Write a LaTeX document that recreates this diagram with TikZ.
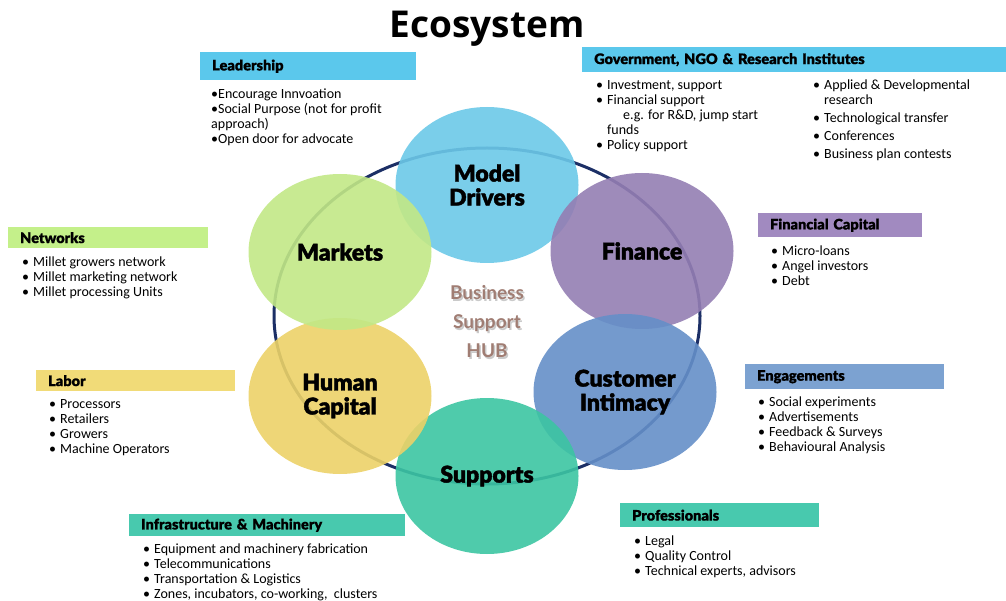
\documentclass[tikz,border=0pt]{standalone}
\usepackage{fontspec}
\setmainfont{Carlito}
\newfontfamily\titlefont{Open Sans}
\newfontfamily\labelfont{Lato}
\newfontfamily\heavyfont{Lato Bold}[FakeBold=1.6]
\newfontfamily\hdrfont{Lato Bold}[FakeBold=0.6]
\usetikzlibrary{shapes.geometric}

\definecolor{cyanhdr}{HTML}{5BC8EC}
\definecolor{greenhdr}{HTML}{C4F08A}
\definecolor{purplehdr}{HTML}{A18AC0}
\definecolor{yellowhdr}{HTML}{F1DB78}
\definecolor{bluehdr}{HTML}{7CA2D1}
\definecolor{tealhdr}{HTML}{48C9AE}
\definecolor{mdfill}{HTML}{6CC9E8}
\definecolor{mkfill}{HTML}{C2E886}
\definecolor{fnfill}{HTML}{947EB3}
\definecolor{hcfill}{HTML}{ECD268}
\definecolor{cifill}{HTML}{658FC8}
\definecolor{spfill}{HTML}{3CC5A2}
\definecolor{ringblue}{HTML}{1C2F66}
\definecolor{hubbrown}{HTML}{A07D73}

\newcommand\itm[1]{\makebox[11pt][l]{\textbullet}#1}

\tikzset{
  hdr/.style={anchor=north west, inner xsep=12pt, inner ysep=0pt, minimum height=24pt,
    text width=#1, align=left, font=\hdrfont\bfseries\fontsize{14.5}{16}\selectfont},
  items/.style={anchor=north west, inner sep=0pt, align=left,
    font=\fontsize{14}{15}\selectfont},
  bubble/.style={ellipse, minimum width=183pt, minimum height=156pt, inner sep=0pt,
    fill opacity=0.9, text opacity=1, align=center,
    font=\heavyfont\bfseries\fontsize{23}{24}\selectfont},
}

\begin{document}
\begin{tikzpicture}[x=1pt,y=-1pt]
\useasboundingbox (0,0) rectangle (1006,601);

% title
\node[font=\titlefont\bfseries\fontsize{37}{40}\selectfont] (title) at (487,29) {Ecosystem};

% ring and bubbles
\node[ellipse, draw=ringblue, line width=3pt, minimum width=426pt, minimum height=336pt] (hubring) at (487,316) {};
\node[bubble, fill=mdfill] (mdrivers) at (487,185) {Model\\Drivers};
\node[bubble, fill=fnfill] (finance) at (642,251) {Finance};
\node[bubble, fill=cifill] (cintimacy) at (625,392) {Customer\\Intimacy};
\node[bubble, fill=spfill] (supports) at (487,476) {Supports};
\node[bubble, fill=hcfill] (hcapital) at (340,396) {Human\\Capital};
\node[bubble, fill=mkfill] (markets) at (340,252) {Markets};

% hub text
\node[align=center, text=black!35, opacity=0.6, font=\labelfont\bfseries\fontsize{19}{29}\selectfont] (hubshadow) at (488.5,323.5) {Business\\Support\\HUB};
\node[align=center, text=hubbrown, font=\labelfont\bfseries\fontsize{19}{29}\selectfont] (hub) at (487,322) {Business\\Support\\HUB};

% Leadership
\node[hdr=192pt, fill=cyanhdr, minimum height=28pt] (leadhdr) at (200,52) {Leadership};
\node[items] (leadlist) at (211,89) {\textbullet Encourage Innvoation\\\textbullet Social Purpose (not for profit\\approach)\\\textbullet Open door for advocate};

% Government, NGO & Research
\node[hdr=400pt, fill=cyanhdr, minimum height=25pt] (govhdr) at (582,47) {Government, NGO \& Research Institutes};
\node[items] (govlist) at (596,80) {\itm{Investment, support}\\\itm{Financial support}\\\hspace*{27pt}e.g. for R\&D, jump start\\\hspace*{11pt}funds\\\itm{Policy support}};
\node[items] (reslist) at (813,80) {\itm{Applied \& Developmental}\\\hspace*{11pt}research\\[3pt]\itm{Technological transfer}\\[3pt]\itm{Conferences}\\[3pt]\itm{Business plan contests}};

% Networks
\node[hdr=176pt, fill=greenhdr, minimum height=21pt] (nethdr) at (8,227) {Networks};
\node[items] (netlist) at (22,257) {\itm{Millet growers network}\\\itm{Millet marketing network}\\\itm{Millet processing Units}};

% Financial Capital
\node[hdr=140pt, fill=purplehdr] (fchdr) at (758,213) {Financial Capital};
\node[items] (fclist) at (771,246) {\itm{Micro-loans}\\\itm{Angel investors}\\\itm{Debt}};

% Labor
\node[hdr=175pt, fill=yellowhdr, minimum height=21pt] (labhdr) at (36,370) {Labor};
\node[items] (lablist) at (49,399) {\itm{Processors}\\\itm{Retailers}\\\itm{Growers}\\\itm{Machine Operators}};

% Engagements
\node[hdr=175pt, fill=bluehdr, minimum height=25pt] (enghdr) at (745,364) {Engagements};
\node[items] (englist) at (758,397) {\itm{Social experiments}\\\itm{Advertisements}\\\itm{Feedback \& Surveys}\\\itm{Behavioural Analysis}};

% Infrastructure & Machinery
\node[hdr=252pt, fill=tealhdr, minimum height=22pt] (infhdr) at (129,514) {Infrastructure \& Machinery};
\node[items] (inflist) at (143,544) {\itm{Equipment and machinery fabrication}\\\itm{Telecommunications}\\\itm{Transportation \& Logistics}\\\itm{Zones, incubators, co-working,\ \ clusters}};

% Professionals
\node[hdr=175pt, fill=tealhdr] (profhdr) at (620,503) {Professionals};
\node[items] (proflist) at (634,536) {\itm{Legal}\\\itm{Quality Control}\\\itm{Technical experts, advisors}};
\end{tikzpicture}
\end{document}
